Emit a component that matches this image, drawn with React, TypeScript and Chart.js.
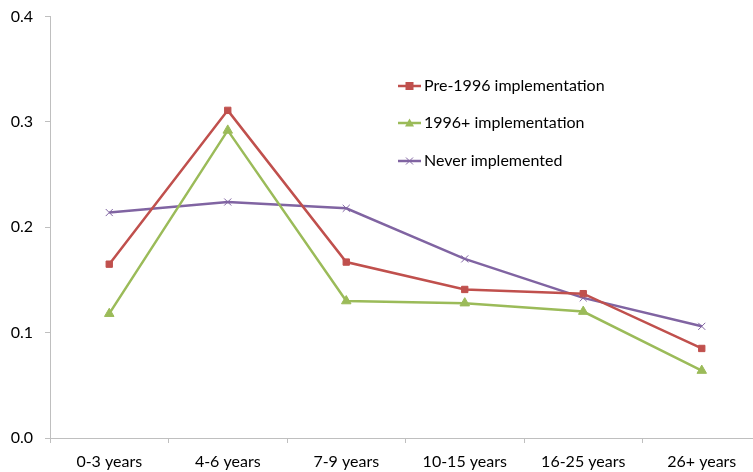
import React, { useEffect, useRef } from "react";
import { Chart, registerables } from "chart.js";

Chart.register(...registerables);

const categories = ["0-3 years", "4-6 years", "7-9 years", "10-15 years", "16-25 years", "26+ years"];
const seriesNames = ["Pre-1996 implementation", "1996+ implementation", "Never implemented"];
const pre1996 = [0.165, 0.311, 0.167, 0.141, 0.137, 0.085];
const post1996 = [0.118, 0.292, 0.130, 0.128, 0.120, 0.064];
const never = [0.214, 0.224, 0.218, 0.170, 0.133, 0.106];
const yTicks = [0, 0.1, 0.2, 0.3, 0.4];

const colors = ["#C0504D", "#9BBB59", "#8064A2"];
const styles = ["rect", "triangle", "crossRot"];
const radii = [4.5, 5.5, 5];
const FONT = "Lato, 'Open Sans', sans-serif";

// Legend drawn inside the plot area: short line with its marker, then the label
const innerLegend = {
  id: "innerLegend",
  afterDraw(chart: any) {
    const ctx = chart.ctx;
    const x0 = 398;
    const x1 = 421;
    const ys = [91, 128, 166];
    chart.data.datasets.forEach((ds: any, i: number) => {
      const y = ys[i];
      const mx = (x0 + x1) / 2;
      ctx.save();
      ctx.strokeStyle = ds.borderColor;
      ctx.lineWidth = 2.5;
      ctx.beginPath();
      ctx.moveTo(x0, y);
      ctx.lineTo(x1, y);
      ctx.stroke();
      ctx.fillStyle = ds.borderColor;
      if (ds.pointStyle === "rect") {
        ctx.fillRect(mx - 4, y - 4, 8, 8);
      } else if (ds.pointStyle === "triangle") {
        ctx.beginPath();
        ctx.moveTo(mx, y - 4.5);
        ctx.lineTo(mx + 4.5, y + 3.5);
        ctx.lineTo(mx - 4.5, y + 3.5);
        ctx.closePath();
        ctx.fill();
      } else {
        ctx.lineWidth = 1;
        ctx.beginPath();
        ctx.moveTo(mx - 3.5, y - 3.5);
        ctx.lineTo(mx + 3.5, y + 3.5);
        ctx.moveTo(mx + 3.5, y - 3.5);
        ctx.lineTo(mx - 3.5, y + 3.5);
        ctx.stroke();
      }
      ctx.fillStyle = "#000000";
      ctx.font = `16px ${FONT}`;
      ctx.textBaseline = "middle";
      ctx.textAlign = "left";
      ctx.fillText(ds.label, 424, y);
      ctx.restore();
    });
  },
};

export default function App() {
  const ref = useRef<HTMLCanvasElement | null>(null);

  useEffect(() => {
    if (!ref.current) return;
    const values = [pre1996, post1996, never];
    const chart = new Chart(ref.current, {
      type: "line",
      data: {
        labels: categories,
        datasets: values.map((v, i) => ({
          label: seriesNames[i],
          data: v,
          borderColor: colors[i],
          backgroundColor: colors[i],
          pointBackgroundColor: colors[i],
          pointBorderColor: colors[i],
          pointStyle: styles[i] as any,
          pointRadius: radii[i],
          pointBorderWidth: 1,
          borderWidth: 2.5,
          tension: 0,
          fill: false,
        })),
      },
      options: {
        responsive: false,
        animation: false,
        layout: { padding: { top: 10, right: 9, left: 0, bottom: 0 } },
        plugins: {
          legend: { display: false },
          tooltip: { enabled: false },
        },
        scales: {
          x: {
            offset: true,
            grid: {
              offset: true,
              drawOnChartArea: false,
              drawTicks: true,
              tickLength: 5,
              color: "#BFBFBF",
            },
            border: { color: "#BFBFBF", width: 1 },
            ticks: {
              color: "#000000",
              font: { family: FONT, size: 16 },
              padding: 9,
              maxRotation: 0,
              autoSkip: false,
            },
            afterFit(scale: any) {
              scale.height = 34;
            },
          },
          y: {
            min: 0,
            max: 0.4,
            afterBuildTicks(scale: any) {
              scale.ticks = yTicks.map((v) => ({ value: v }));
            },
            grid: {
              drawOnChartArea: false,
              drawTicks: true,
              tickLength: 5,
              color: "#BFBFBF",
            },
            border: { color: "#BFBFBF", width: 1 },
            ticks: {
              color: "#000000",
              font: { family: FONT, size: 16 },
              padding: 12,
              callback: (v: any) => Number(v).toFixed(1),
            },
            afterFit(scale: any) {
              scale.width = 50;
            },
          },
        },
      },
      plugins: [innerLegend],
    });
    return () => chart.destroy();
  }, []);

  return (
    <div
      style={{
        position: "absolute",
        left: 0,
        top: 0,
        width: 753,
        height: 472,
        overflow: "hidden",
        background: "#ffffff",
      }}
    >
      <canvas
        ref={ref}
        width={770}
        height={477}
        style={{ display: "block", marginTop: -5 }}
      />
    </div>
  );
}
